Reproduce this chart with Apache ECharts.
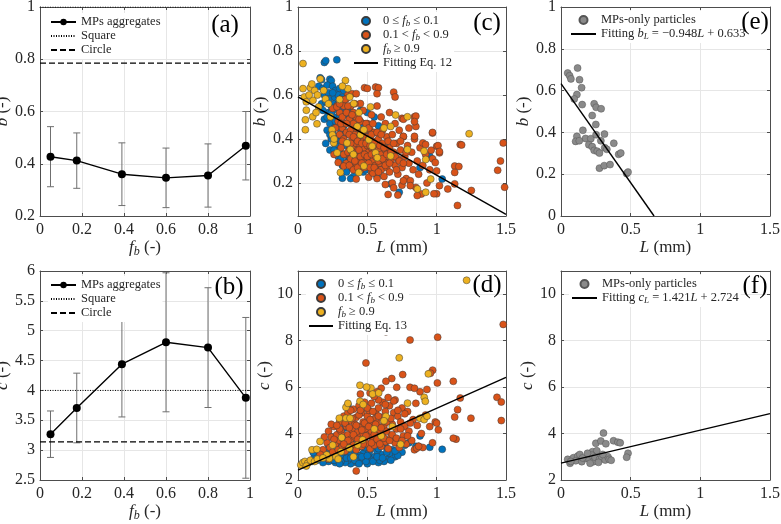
<!DOCTYPE html>
<html><head><meta charset="utf-8">
<script src="https://cdn.jsdelivr.net/npm/echarts@6/dist/echarts.min.js"></script>
<style>html,body{margin:0;padding:0;background:#fff}#c{width:781px;height:524px}</style>
</head><body><div id="c"></div><script>
// ---------------- data ----------------
// (a) b vs f_b
const fbA = [0.05, 0.175, 0.39, 0.60, 0.80, 0.98];
const meanA = [0.427, 0.412, 0.360, 0.346, 0.355, 0.469];
const errA = [0.115, 0.106, 0.120, 0.114, 0.121, 0.131];
const squareA = 1.0, circleA = 0.785;
// (b) c vs f_b
const fbB = [0.05, 0.175, 0.39, 0.60, 0.80, 0.98];
const meanB = [3.267, 3.706, 4.439, 4.806, 4.717, 3.876];
const errB = [0.389, 0.583, 0.883, 1.164, 1.003, 1.346];
const squareB = 4.0, circleB = 3.14;
// (c) b vs L
const cBlue = [[0.19,0.748],[0.20,0.756],[0.28,0.760],[0.16,0.678],[0.17,0.670],[0.23,0.672],[0.24,0.665],[0.15,0.640],[0.18,0.630],[0.21,0.645],[0.25,0.640],[0.27,0.620],[0.30,0.630],[0.33,0.620],[0.19,0.600],[0.22,0.610],[0.26,0.590],[0.29,0.600],[0.31,0.570],[0.17,0.560],[0.20,0.570],[0.24,0.550],[0.27,0.535],[0.34,0.550],[0.22,0.520],[0.26,0.500],[0.30,0.510],[0.19,0.490],[0.23,0.470],[0.28,0.460],[0.21,0.440],[0.25,0.430],[0.31,0.440],[0.24,0.400],[0.28,0.410],[0.27,0.370],[0.30,0.350],[0.33,0.380],[0.29,0.320],[0.34,0.330],[0.32,0.280],[0.36,0.300],[0.39,0.270],[0.35,0.250],[0.40,0.230],[0.38,0.220],[0.32,0.222],[0.45,0.530],[0.50,0.520],[0.55,0.500],[0.58,0.460],[0.50,0.430],[0.45,0.380],[0.52,0.345],[0.43,0.340],[0.40,0.300],[0.37,0.320],[0.48,0.300],[0.56,0.250],[0.57,0.230],[0.67,0.196],[0.73,0.158],[0.88,0.270],[0.95,0.322],[1.04,0.218],[0.42,0.450],[0.47,0.470],[0.38,0.480],[0.36,0.430],[0.44,0.270],[0.60,0.280],[0.62,0.320],[0.53,0.390],[0.41,0.360],[0.35,0.370],[0.47,0.250],[0.64,0.360],[0.55,0.290],[0.26,0.560],[0.32,0.590],[0.37,0.540],[0.40,0.510],[0.29,0.395],[0.33,0.460],[0.23,0.350],[0.20,0.380],[0.18,0.53],[0.21,0.50],[0.24,0.52],[0.27,0.48],[0.22,0.58],[0.25,0.61],[0.29,0.56],[0.32,0.53],[0.35,0.51],[0.26,0.45],[0.30,0.47],[0.23,0.42],[0.27,0.40],[0.31,0.39],[0.34,0.42],[0.26,0.35],[0.31,0.31],[0.38,0.35],[0.42,0.31],[0.46,0.36],[0.50,0.35],[0.49,0.26],[0.54,0.33],[0.58,0.38],[0.61,0.36]];
const cOrange = [[0.28,0.55],[0.29,0.48],[0.30,0.52],[0.30,0.42],[0.31,0.58],[0.31,0.36],[0.32,0.45],[0.32,0.50],[0.33,0.40],[0.33,0.55],[0.34,0.47],[0.34,0.33],[0.35,0.52],[0.35,0.43],[0.35,0.29],[0.36,0.38],[0.36,0.60],[0.37,0.49],[0.37,0.35],[0.38,0.44],[0.38,0.31],[0.38,0.55],[0.39,0.40],[0.39,0.27],[0.40,0.47],[0.40,0.36],[0.40,0.52],[0.41,0.33],[0.41,0.42],[0.42,0.38],[0.42,0.29],[0.42,0.50],[0.43,0.45],[0.43,0.35],[0.44,0.40],[0.44,0.31],[0.45,0.37],[0.45,0.48],[0.45,0.26],[0.46,0.42],[0.46,0.34],[0.47,0.39],[0.47,0.30],[0.47,0.53],[0.48,0.36],[0.48,0.44],[0.49,0.32],[0.49,0.41],[0.50,0.37],[0.50,0.28],[0.50,0.47],[0.51,0.34],[0.51,0.40],[0.52,0.31],[0.52,0.44],[0.53,0.36],[0.53,0.25],[0.54,0.39],[0.54,0.30],[0.55,0.34],[0.55,0.43],[0.56,0.28],[0.56,0.37],[0.57,0.32],[0.57,0.22],[0.58,0.40],[0.58,0.35],[0.59,0.29],[0.60,0.33],[0.60,0.26],[0.61,0.38],[0.61,0.44],[0.62,0.30],[0.62,0.23],[0.63,0.35],[0.64,0.27],[0.64,0.41],[0.65,0.32],[0.66,0.36],[0.66,0.25],[0.67,0.30],[0.68,0.20],[0.68,0.42],[0.69,0.34],[0.70,0.28],[0.70,0.47],[0.71,0.38],[0.72,0.24],[0.72,0.31],[0.73,0.44],[0.74,0.35],[0.75,0.27],[0.75,0.19],[0.76,0.41],[0.77,0.32],[0.78,0.22],[0.79,0.37],[0.80,0.29],[0.80,0.45],[0.81,0.21],[0.82,0.34],[0.83,0.26],[0.84,0.40],[0.85,0.18],[0.86,0.30],[0.87,0.24],[0.88,0.36],[0.89,0.15],[0.90,0.28],[0.92,0.33],[0.93,0.20],[0.95,0.26],[0.97,0.31],[0.56,0.636],[0.58,0.633],[0.57,0.606],[0.69,0.613],[0.70,0.591],[0.75,0.494],[0.84,0.501],[0.85,0.457],[0.76,0.412],[0.84,0.412],[0.90,0.382],[0.92,0.375],[0.97,0.427],[1.00,0.367],[1.02,0.337],[0.99,0.293],[1.00,0.255],[1.02,0.188],[1.00,0.151],[1.13,0.277],[1.17,0.375],[1.13,0.248],[1.15,0.098],[1.13,0.196],[1.25,0.166],[1.48,0.382],[1.46,0.300],[1.44,0.258],[1.49,0.181],[0.86,0.143],[0.81,0.188],[0.76,0.210],[0.98,0.151],[1.08,0.173],[0.85,0.504],[0.84,0.479],[0.76,0.490],[0.97,0.430],[1.18,0.373],[1.01,0.370],[0.96,0.349],[1.02,0.343],[1.16,0.275],[0.48,0.633],[0.50,0.630],[0.25,0.539],[0.28,0.546],[0.30,0.560],[0.35,0.584],[0.39,0.606],[0.42,0.606],[0.45,0.561],[0.29,0.293],[0.33,0.277],[0.42,0.218],[0.51,0.226],[0.54,0.245],[0.63,0.193],[0.69,0.178],[0.65,0.148],[0.72,0.145],[0.26,0.33],[0.27,0.45],[0.31,0.47],[0.32,0.39],[0.33,0.33],[0.34,0.58],[0.35,0.47],[0.36,0.34],[0.36,0.55],[0.37,0.42],[0.37,0.28],[0.38,0.38],[0.39,0.51],[0.39,0.34],[0.40,0.41],[0.40,0.26],[0.41,0.56],[0.41,0.30],[0.42,0.45],[0.43,0.39],[0.43,0.27],[0.44,0.35],[0.44,0.49],[0.45,0.32],[0.45,0.42],[0.46,0.29],[0.46,0.38],[0.47,0.44],[0.48,0.27],[0.48,0.33],[0.49,0.38],[0.49,0.47],[0.50,0.32],[0.51,0.29],[0.51,0.45],[0.52,0.37],[0.52,0.27],[0.53,0.42],[0.53,0.33],[0.54,0.47],[0.55,0.27],[0.55,0.38],[0.56,0.32],[0.57,0.43],[0.58,0.30],[0.58,0.25],[0.59,0.37],[0.60,0.42],[0.61,0.31],[0.62,0.36],[0.63,0.28],[0.64,0.33],[0.65,0.39],[0.66,0.29],[0.67,0.34],[0.69,0.38],[0.70,0.32],[0.71,0.26],[0.73,0.30],[0.74,0.39],[0.76,0.29],[0.78,0.34],[0.60,0.50],[0.63,0.47],[0.66,0.52],[0.53,0.51],[0.57,0.55]];
const cYellow = [[0.036,0.743],[0.036,0.629],[0.046,0.591],[0.06,0.569],[0.06,0.531],[0.053,0.487],[0.053,0.442],[0.089,0.633],[0.108,0.576],[0.106,0.501],[0.137,0.469],[0.149,0.546],[0.161,0.673],[0.185,0.621],[0.198,0.582],[0.234,0.501],[0.245,0.442],[0.248,0.419],[0.258,0.382],[0.282,0.337],[0.342,0.666],[0.359,0.629],[0.373,0.591],[0.402,0.561],[0.354,0.382],[0.378,0.352],[0.427,0.457],[0.451,0.419],[0.475,0.442],[0.511,0.397],[0.523,0.546],[0.535,0.367],[0.559,0.337],[0.572,0.315],[0.439,0.248],[0.475,0.277],[0.668,0.457],[0.789,0.501],[0.789,0.352],[0.861,0.173],[0.921,0.158],[0.909,0.345],[0.921,0.307],[0.957,0.218],[1.234,0.424],[0.306,0.248],[0.668,0.323],[0.704,0.509],[0.12,0.62],[0.14,0.60],[0.10,0.65],[0.08,0.60],[0.13,0.52],[0.22,0.56],[0.30,0.58],[0.32,0.64],[0.26,0.40],[0.40,0.33],[0.62,0.45],[0.44,0.52]];
const fitC = [[0, 0.591], [1.5, 0.057]];
// (d) c vs L
const dBlue = [[0.36,5.24],[0.33,4.23],[0.30,4.05],[0.25,3.85],[0.40,3.9],[1.04,3.32],[0.95,3.41],[0.85,3.45],[0.80,3.6],[0.75,3.2],[0.70,3.0],[0.68,3.3],[0.65,2.9],[0.62,2.8],[0.60,3.1],[0.58,2.75],[0.55,3.0],[0.53,2.85],[0.52,3.3],[0.50,2.7],[0.48,2.95],[0.47,3.15],[0.45,2.8],[0.44,3.05],[0.42,2.75],[0.41,3.2],[0.40,2.9],[0.38,2.7],[0.37,3.05],[0.36,2.85],[0.35,3.3],[0.34,2.75],[0.33,2.95],[0.32,3.1],[0.31,2.8],[0.30,3.45],[0.29,2.9],[0.28,3.15],[0.27,2.75],[0.26,3.0],[0.25,3.3],[0.24,2.85],[0.23,3.1],[0.22,2.8],[0.21,3.2],[0.20,2.9],[0.19,3.05],[0.18,2.75],[0.17,3.1],[0.16,2.95],[0.15,3.2],[0.14,2.85],[0.12,3.0],[0.11,3.18],[0.10,2.8],[0.56,3.5],[0.63,3.45],[0.46,3.6],[0.43,3.4],[0.39,3.55],[0.34,3.7],[0.28,3.6],[0.22,3.5],[0.72,3.05],[0.66,3.15],[0.59,2.85],[0.51,3.15],[0.57,3.25],[0.43,2.95],[0.35,2.95],[0.49,2.8],[0.27,3.3],[0.61,3.6],[0.77,3.5],[0.88,3.9],[0.30,2.7],[0.33,3.2],[0.38,2.95],[0.41,2.85],[0.44,2.7],[0.46,3.0],[0.50,3.05],[0.54,2.8],[0.57,3.0],[0.61,2.95],[0.64,3.2],[0.67,2.85],[0.70,3.25],[0.26,2.85],[0.23,2.95],[0.39,3.35],[0.48,3.4],[0.53,3.55],[0.58,3.35]];
const dOrange = [[0.20,3.1],[0.21,3.6],[0.22,4.1],[0.23,3.4],[0.24,3.85],[0.25,3.2],[0.26,4.3],[0.27,3.55],[0.28,3.95],[0.29,3.3],[0.30,4.5],[0.30,3.7],[0.31,4.1],[0.32,3.45],[0.33,4.75],[0.33,3.9],[0.34,3.25],[0.35,4.3],[0.35,3.6],[0.36,4.9],[0.36,3.95],[0.37,3.4],[0.38,4.55],[0.38,3.75],[0.39,4.15],[0.40,3.5],[0.40,5.05],[0.41,4.4],[0.41,3.85],[0.42,3.3],[0.42,4.7],[0.43,4.05],[0.44,3.6],[0.44,5.2],[0.45,4.3],[0.45,3.85],[0.46,4.9],[0.46,3.45],[0.47,4.5],[0.47,4.0],[0.48,5.35],[0.48,3.7],[0.49,4.2],[0.50,4.75],[0.50,3.55],[0.51,3.95],[0.51,5.0],[0.52,4.4],[0.52,3.35],[0.53,4.1],[0.53,5.3],[0.54,3.75],[0.54,4.6],[0.55,4.25],[0.55,3.5],[0.56,4.9],[0.56,3.95],[0.57,4.45],[0.58,3.7],[0.58,5.1],[0.59,4.15],[0.60,4.7],[0.60,3.45],[0.61,3.9],[0.61,5.35],[0.62,4.35],[0.63,3.65],[0.63,4.95],[0.64,4.1],[0.65,4.6],[0.65,3.35],[0.66,5.2],[0.67,3.85],[0.68,4.4],[0.69,4.9],[0.70,3.6],[0.70,5.45],[0.71,4.2],[0.72,4.75],[0.73,3.4],[0.74,4.5],[0.75,5.1],[0.76,3.9],[0.77,4.3],[0.78,3.55],[0.79,4.95],[0.80,4.1],[0.82,3.7],[0.83,4.6],[0.84,3.3],[0.85,5.3],[0.86,4.35],[0.87,3.45],[0.88,5.8],[0.89,4.0],[0.90,3.4],[0.92,4.8],[0.93,5.9],[0.95,4.3],[0.97,3.6],[0.99,4.5],[1.48,8.7],[1.007,8.15],[0.808,8.03],[0.634,8.38],[0.49,7.04],[0.971,6.73],[0.955,6.6],[1.005,6.18],[1.12,6.25],[0.808,5.99],[0.84,5.95],[1.435,5.56],[1.466,5.36],[1.17,5.53],[1.151,5.03],[1.13,4.71],[1.247,4.66],[1.466,4.56],[1.012,4.16],[1.0,4.45],[1.14,3.76],[0.712,5.99],[0.755,6.54],[0.676,6.37],[0.634,6.25],[0.543,5.68],[0.42,2.39],[0.856,3.37],[0.87,3.45],[1.12,3.8],[0.60,5.95],[0.57,5.8],[0.45,5.7],[0.52,5.75],[0.18,3.3],[0.19,3.85],[0.16,3.1],[0.24,4.4],[0.22,2.9],[0.30,4.2],[0.32,3.8],[0.34,4.45],[0.36,3.7],[0.37,4.25],[0.39,4.65],[0.40,3.95],[0.42,4.35],[0.43,3.75],[0.44,4.8],[0.46,4.15],[0.47,3.55],[0.48,4.45],[0.49,3.9],[0.50,5.1],[0.51,4.3],[0.53,3.6],[0.54,4.95],[0.55,3.95],[0.56,4.4],[0.57,3.75],[0.58,4.75],[0.59,3.55],[0.60,4.25],[0.62,3.8],[0.63,5.25],[0.64,4.5],[0.66,3.7],[0.67,4.65],[0.68,3.95],[0.69,5.4],[0.71,3.8],[0.72,5.0],[0.74,4.2],[0.75,3.7],[0.77,4.85],[0.79,3.9],[0.81,4.45],[0.52,4.6],[0.45,5.0],[0.38,5.0],[0.28,4.35],[0.26,3.75],[0.33,3.55],[0.65,5.55],[0.58,5.45],[0.55,5.6]];
const dYellow = [[1.216,10.6],[0.73,7.26],[0.94,6.57],[0.91,5.56],[0.918,5.39],[0.79,5.31],[0.88,4.66],[0.91,4.6],[0.93,4.75],[0.74,3.54],[0.447,6.08],[0.526,5.96],[0.538,5.70],[0.582,5.75],[0.346,5.13],[0.36,5.3],[0.298,4.66],[0.346,4.66],[0.159,3.66],[0.101,3.3],[0.02,2.65],[0.035,2.75],[0.05,2.8],[0.07,2.72],[0.09,2.85],[0.12,2.8],[0.14,2.9],[0.06,2.6],[0.226,2.93],[0.274,3.0],[0.31,3.22],[0.37,3.37],[0.43,3.51],[0.466,3.73],[0.634,4.74],[0.62,4.55],[0.495,6.0],[0.447,5.39],[0.47,5.25],[0.375,4.66],[0.315,3.83],[0.135,3.32],[0.207,3.08],[0.25,3.5],[0.55,4.2],[0.60,3.9],[0.68,4.3],[0.18,2.95],[0.29,2.9],[0.40,3.0]];
const fitD = [[0, 2.43], [1.5, 6.42]];
// (e) b vs L, MPs-only
const eGray = [[0.048,0.684],[0.062,0.671],[0.071,0.656],[0.119,0.708],[0.133,0.652],[0.148,0.614],[0.114,0.581],[0.095,0.56],[0.152,0.533],[0.238,0.537],[0.252,0.52],[0.288,0.513],[0.224,0.481],[0.25,0.438],[0.157,0.41],[0.312,0.392],[0.114,0.381],[0.176,0.371],[0.214,0.37],[0.105,0.357],[0.131,0.36],[0.252,0.389],[0.286,0.36],[0.2,0.341],[0.224,0.332],[0.238,0.314],[0.26,0.31],[0.314,0.327],[0.329,0.319],[0.276,0.301],[0.379,0.348],[0.414,0.295],[0.429,0.301],[0.276,0.229],[0.31,0.241],[0.352,0.246],[0.471,0.203],[0.481,0.21]];
const fitE = [[0, 0.633], [0.668, 0]];
// (f) c vs L, MPs-only
const fGray = [[0.305,4.02],[0.25,3.58],[0.286,3.68],[0.322,3.56],[0.377,3.69],[0.408,3.63],[0.425,3.6],[0.481,3.15],[0.471,2.98],[0.226,3.22],[0.257,3.26],[0.048,2.89],[0.065,2.72],[0.089,2.96],[0.12,3.03],[0.135,3.1],[0.106,2.83],[0.149,2.79],[0.178,2.93],[0.202,2.89],[0.221,3.07],[0.233,2.79],[0.245,2.98],[0.276,2.89],[0.293,3.0],[0.317,2.86],[0.337,3.0],[0.346,2.89],[0.209,2.72],[0.269,2.76],[0.155,2.95],[0.19,3.15],[0.30,3.1],[0.36,2.85],[0.07,2.8]];
const fitF = [[0, 2.724], [1.5, 4.856]];
// tick values
const ticksFb = [0, 0.2, 0.4, 0.6, 0.8, 1];
const ticksL = [0, 0.5, 1, 1.5];
const ticksBa = [0.2, 0.4, 0.6, 0.8, 1];
const ticksCb = [2.5, 3, 3.5, 4, 4.5, 5, 5.5, 6];
const ticksBc = [0.2, 0.4, 0.6, 0.8, 1];
const ticksCd = [2, 4, 6, 8, 10];
const ticksBe = [0, 0.2, 0.4, 0.6, 0.8, 1];

// ---------------- chart ----------------
const FONT = 'Liberation Serif';
const TXT = '#262626';
const AX = '#4d4d4d';
const GRIDC = '#e6e6e6';
const BLUE = '#0072BD', ORANGE = '#D95319', YELLOW = '#EDB120', GRAY = '#8a8a8a';

const grids = [
  {left: 40, top: 7, width: 210, height: 209},
  {left: 40, top: 271, width: 210, height: 209},
  {left: 298, top: 7, width: 208, height: 209},
  {left: 298, top: 271, width: 208, height: 209},
  {left: 561, top: 7, width: 209, height: 209},
  {left: 561, top: 271, width: 209, height: 209}
].map(g => Object.assign({show: false, containLabel: false, outerBoundsMode: 'none'}, g));

const nameRich = {
  i: {fontFamily: FONT, fontStyle: 'italic', fontSize: 17, lineHeight: 20, verticalAlign: 'middle', color: TXT},
  s: {fontFamily: FONT, fontStyle: 'italic', fontSize: 12, lineHeight: 8, verticalAlign: 'bottom', color: TXT},
  n: {fontFamily: FONT, fontSize: 17, lineHeight: 20, verticalAlign: 'middle', color: TXT}
};
const FB_NAME = '{i|f}{s|b}{n| (-)}';
const L_NAME = '{i|L}{n| (mm)}';

const specs = [
  {xmin: 0, xmax: 1, xt: ticksFb, ymin: 0.2, ymax: 1, yt: ticksBa, xn: FB_NAME, yn: '{i|b}{n| (-)}', xg: 15, yg: 21},
  {xmin: 0, xmax: 1, xt: ticksFb, ymin: 2.5, ymax: 6, yt: ticksCb, xn: FB_NAME, yn: '{i|c}{n| (-)}', xg: 19, yg: 23},
  {xmin: 0, xmax: 1.5, xt: ticksL, ymin: 0.05, ymax: 1, yt: ticksBc, xn: L_NAME, yn: '{i|b}{n| (-)}', xg: 21, yg: 14},
  {xmin: 0, xmax: 1.5, xt: ticksL, ymin: 2, ymax: 11, yt: ticksCd, xn: L_NAME, yn: '{i|c}{n| (-)}', xg: 18, yg: 15},
  {xmin: 0, xmax: 1.5, xt: ticksL, ymin: 0, ymax: 1, yt: ticksBe, xn: L_NAME, yn: '{i|b}{n| (-)}', xg: 21, yg: 16},
  {xmin: 0, xmax: 1.5, xt: ticksL, ymin: 2, ymax: 11, yt: ticksCd, xn: L_NAME, yn: '{i|c}{n| (-)}', xg: 18, yg: 18}
];

function axis(gi, min, max, ticks, main, pos, name, gap) {
  return {
    type: 'value', gridIndex: gi, position: pos, min: min, max: max,
    name: main ? name : '', nameLocation: 'middle', nameGap: gap,
    nameTextStyle: {rich: nameRich, fontFamily: FONT, fontSize: 17, color: TXT},
    axisLine: {show: true, onZero: false, lineStyle: {color: AX, width: 1}},
    axisTick: {show: true, inside: true, length: 3, lineStyle: {color: AX, width: 1}, customValues: ticks},
    axisLabel: {show: main, customValues: ticks, fontFamily: FONT, fontSize: 16, color: TXT, margin: (pos === 'bottom' ? 6 : 5)},
    splitLine: {show: main, lineStyle: {color: GRIDC, width: 1}},
    minorTick: {show: false}
  };
}
const xAxes = [], yAxes = [];
specs.forEach((s, gi) => {
  xAxes.push(axis(gi, s.xmin, s.xmax, s.xt, true, 'bottom', s.xn, s.xg));
  xAxes.push(axis(gi, s.xmin, s.xmax, s.xt, false, 'top', '', 0));
  yAxes.push(axis(gi, s.ymin, s.ymax, s.yt, true, 'left', s.yn, s.yg));
  yAxes.push(axis(gi, s.ymin, s.ymax, s.yt, false, 'right', '', 0));
});

function errSeries(gi, xs, means, errs) {
  return {
    type: 'custom', xAxisIndex: 2 * gi, yAxisIndex: 2 * gi, z: 1,
    data: xs.map((x, i) => [x, means[i] - errs[i], means[i] + errs[i]]),
    encode: {x: 0, y: [1, 2]},
    renderItem: function (params, api) {
      const x = api.value(0), lo = api.value(1), hi = api.value(2);
      const p1 = api.coord([x, hi]), p2 = api.coord([x, lo]);
      const w = 3.5, st = {stroke: '#6f6f6f', lineWidth: 1};
      return {type: 'group', children: [
        {type: 'line', shape: {x1: p1[0], y1: p1[1], x2: p2[0], y2: p2[1]}, style: st},
        {type: 'line', shape: {x1: p1[0] - w, y1: p1[1], x2: p1[0] + w, y2: p1[1]}, style: st},
        {type: 'line', shape: {x1: p2[0] - w, y1: p2[1], x2: p2[0] + w, y2: p2[1]}, style: st}
      ]};
    }
  };
}
function meanSeries(gi, name, xs, means) {
  return {type: 'line', name: name, xAxisIndex: 2 * gi, yAxisIndex: 2 * gi, z: 3,
    data: xs.map((x, i) => [x, means[i]]), symbol: 'circle', symbolSize: 8,
    itemStyle: {color: '#000'}, lineStyle: {color: '#000', width: 1.4}};
}
function hline(gi, name, xmin, xmax, v, dash, w) {
  return {type: 'line', name: name, xAxisIndex: 2 * gi, yAxisIndex: 2 * gi, z: 2,
    data: [[xmin, v], [xmax, v]], symbol: 'none', itemStyle: {color: '#000'},
    lineStyle: {color: '#000', width: w, type: dash}};
}
function scatter(gi, name, data, color, edge) {
  return {type: 'scatter', name: name, xAxisIndex: 2 * gi, yAxisIndex: 2 * gi, z: 2,
    data: data, symbol: 'circle', symbolSize: 7,
    itemStyle: {color: color, borderColor: edge, borderWidth: 0.5, opacity: 1}};
}
function fit(gi, name, data) {
  return {type: 'line', name: name, xAxisIndex: 2 * gi, yAxisIndex: 2 * gi, z: 4,
    data: data, symbol: 'none', itemStyle: {color: '#000'}, lineStyle: {color: '#000', width: 1.4}};
}

const series = [
  errSeries(0, fbA, meanA, errA),
  hline(0, 'aSq', 0, 1, squareA, [1, 1.5], 1),
  hline(0, 'aCi', 0, 1, circleA, [6, 3], 1.3),
  meanSeries(0, 'aMean', fbA, meanA),
  errSeries(1, fbB, meanB, errB),
  hline(1, 'bSq', 0, 1, squareB, [1, 1.5], 1),
  hline(1, 'bCi', 0, 1, circleB, [6, 3], 1.3),
  meanSeries(1, 'bMean', fbB, meanB),
  scatter(2, 'cB', cBlue, BLUE, '#3a3a3a'),
  scatter(2, 'cO', cOrange, ORANGE, '#3a3a3a'),
  scatter(2, 'cY', cYellow, YELLOW, '#3a3a3a'),
  fit(2, 'cF', fitC),
  scatter(3, 'dB', dBlue, BLUE, '#3a3a3a'),
  scatter(3, 'dO', dOrange, ORANGE, '#3a3a3a'),
  scatter(3, 'dY', dYellow, YELLOW, '#3a3a3a'),
  fit(3, 'dF', fitD),
  scatter(4, 'eG', eGray, GRAY, '#555'),
  fit(4, 'eF', fitE),
  scatter(5, 'fG', fGray, GRAY, '#555'),
  fit(5, 'fF', fitF)
];

const LABEL = {
  aMean: 'MPs aggregates', aSq: 'Square', aCi: 'Circle',
  bMean: 'MPs aggregates', bSq: 'Square', bCi: 'Circle',
  cB: '0 ≤ {i|f}{s|b} ≤ 0.1', cO: '0.1 < {i|f}{s|b} < 0.9', cY: '{i|f}{s|b} ≥ 0.9', cF: 'Fitting Eq. 12',
  dB: '0 ≤ {i|f}{s|b} ≤ 0.1', dO: '0.1 < {i|f}{s|b} < 0.9', dY: '{i|f}{s|b} ≥ 0.9', dF: 'Fitting Eq. 13',
  eG: 'MPs-only particles', eF: 'Fitting {i|b}{s|L} = −0.948{i|L} + 0.633',
  fG: 'MPs-only particles', fF: 'Fitting {i|c}{s|L} = 1.421{i|L} + 2.724'
};
const NO_MARK = {aSq: 1, aCi: 1, bSq: 1, bCi: 1, cF: 1, dF: 1, eF: 1, fF: 1};
const legRich = {
  i: {fontFamily: FONT, fontStyle: 'italic', fontSize: 12.5, lineHeight: 14, verticalAlign: 'middle', color: TXT},
  s: {fontFamily: FONT, fontStyle: 'italic', fontSize: 9, lineHeight: 6, verticalAlign: 'bottom', color: TXT}
};
function legend(names, left, top, iw) {
  return {data: names.map(n => NO_MARK[n] ? {name: n, itemStyle: {opacity: 0, borderWidth: 0}} : {name: n}),
    left: left, top: top, orient: 'vertical', itemWidth: iw, itemHeight: 8, itemGap: 0,
    padding: 2, backgroundColor: '#fff', selectedMode: false,
    formatter: n => LABEL[n],
    textStyle: {fontFamily: FONT, fontSize: 12.5, lineHeight: 14, color: TXT, rich: legRich}};
}
const legends = [
  legend(['aMean', 'aSq', 'aCi'], 48, 13, 25),
  legend(['bMean', 'bSq', 'bCi'], 48, 276, 25),
  legend(['cB', 'cO', 'cY', 'cF'], 351, 12, 24),
  legend(['dB', 'dO', 'dY', 'dF'], 306, 275, 24),
  legend(['eG', 'eF'], 568, 11, 25),
  legend(['fG', 'fF'], 569, 275, 25)
];

function plabel(t, x, y) {
  return {type: 'text', x: x, y: y, z: 100,
    style: {text: t, font: '25px "Liberation Serif"', fill: '#000', align: 'center', verticalAlign: 'middle'}};
}
const chart = echarts.init(document.getElementById('c'), null, {renderer: 'canvas'});
chart.setOption({
  animation: false,
  backgroundColor: '#fff',
  grid: grids,
  xAxis: xAxes,
  yAxis: yAxes,
  legend: legends,
  series: series,
  graphic: [
    plabel('(a)', 225, 25), plabel('(b)', 229, 287), plabel('(c)', 487, 23),
    plabel('(d)', 487, 285), plabel('(e)', 755, 22), plabel('(f)', 755, 286)
  ]
});
</script></body></html>
